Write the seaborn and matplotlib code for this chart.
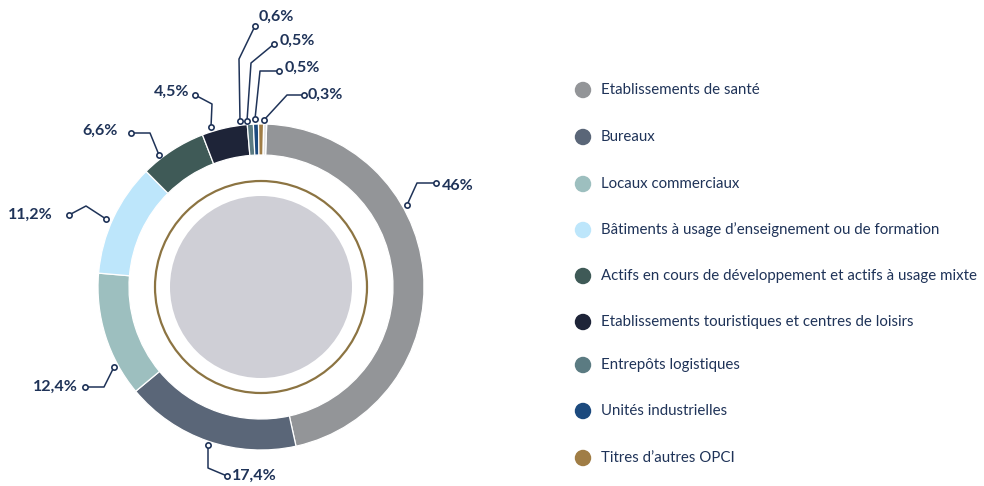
import matplotlib
matplotlib.use("Agg")
import matplotlib.pyplot as plt
import seaborn as sns

sns.set_theme(style="white")
plt.rcParams['font.family'] = ['Lato', 'DejaVu Sans']

# ---- data ----
categories = [
    "Etablissements de santé",
    "Bureaux",
    "Locaux commerciaux",
    "Bâtiments à usage d’enseignement ou de formation",
    "Actifs en cours de développement et actifs à usage mixte",
    "Etablissements touristiques et centres de loisirs",
    "Entrepôts logistiques",
    "Unités industrielles",
    "Titres d’autres OPCI",
    "",
]
values = [46, 17.4, 12.4, 11.2, 6.6, 4.5, 0.6, 0.5, 0.5, 0.3]
value_labels = ["46%", "17,4%", "12,4%", "11,2%", "6,6%", "4,5%",
                "0,6%", "0,5%", "0,5%", "0,3%"]
colors = ["#939598", "#5a6678", "#9dbfbf", "#bde6fb", "#3f5a57",
          "#1e2438", "#5b7b82", "#1c4a7e", "#a07d45", "#e4e4e4"]
legend_count = 9

TEXT = "#1f3358"
W, H = 984, 486

fig = plt.figure(figsize=(W / 100, H / 100), dpi=100)
ax = fig.add_axes([0, 0, 1, 1])

def Y(py):
    return H - py

cx, cy = 261, Y(287)
R_out, ring_w = 163, 31

ax.pie(values, colors=colors, startangle=88, counterclock=False,
       radius=R_out, center=(cx, cy),
       wedgeprops=dict(width=ring_w, edgecolor="white", linewidth=0.9))

ax.add_patch(plt.Circle((cx, cy), 106, fill=False, edgecolor="#8c7442", linewidth=1.6))
ax.add_patch(plt.Circle((cx, cy), 91, facecolor="#cfcfd6", edgecolor="none"))

# leader-line layout (screen px): anchor, elbow, end, text pos, ha
layout = [
    ((407, 205), (417, 183), (436, 183), (442, 186), "left"),
    ((208, 445), (208, 468), (227, 476), (232, 476), "left"),
    ((114, 367), (104, 387), (85, 387), (78, 387), "right"),
    ((106, 219), (86, 206), (69, 215), (53, 215), "right"),
    ((159, 155), (150, 133), (131, 133), (118, 131), "right"),
    ((211, 127), (212, 104), (195, 95), (189, 92), "right"),
    ((240, 121), (239, 59), (255, 26), (259, 17), "left"),
    ((247, 121), (251, 63), (274, 44), (280, 41), "left"),
    ((255, 119), (260, 71), (279, 71), (285, 68), "left"),
    ((264, 120), (287, 95), (304, 95), (308, 95), "left"),
]
for lab, (a, e, z, t, ha) in zip(value_labels, layout):
    xs = [a[0], e[0], z[0]]
    ys = [Y(a[1]), Y(e[1]), Y(z[1])]
    ax.plot(xs, ys, color=TEXT, lw=1.1, zorder=5)
    ax.plot([a[0], z[0]], [Y(a[1]), Y(z[1])], ls="none", marker="o",
            ms=3.8, mfc="white", mec=TEXT, mew=1.2, zorder=6)
    ax.text(t[0], Y(t[1]), lab, ha=ha, va="center", color=TEXT,
            fontsize=11.5, fontweight="bold")

# legend
leg_y = [90, 137, 184, 230, 276, 322, 365, 411, 458]
for name, col, ly in zip(categories[:legend_count], colors[:legend_count], leg_y):
    ax.scatter([583], [Y(ly)], s=140, color=col, edgecolor="none", zorder=5)
    ax.text(601, Y(ly), name, ha="left", va="center", color=TEXT, fontsize=10.8)

ax.set_xlim(0, W)
ax.set_ylim(0, H)
ax.set_aspect("equal")
ax.axis("off")

fig.savefig("out.png", dpi=100, facecolor="white")
